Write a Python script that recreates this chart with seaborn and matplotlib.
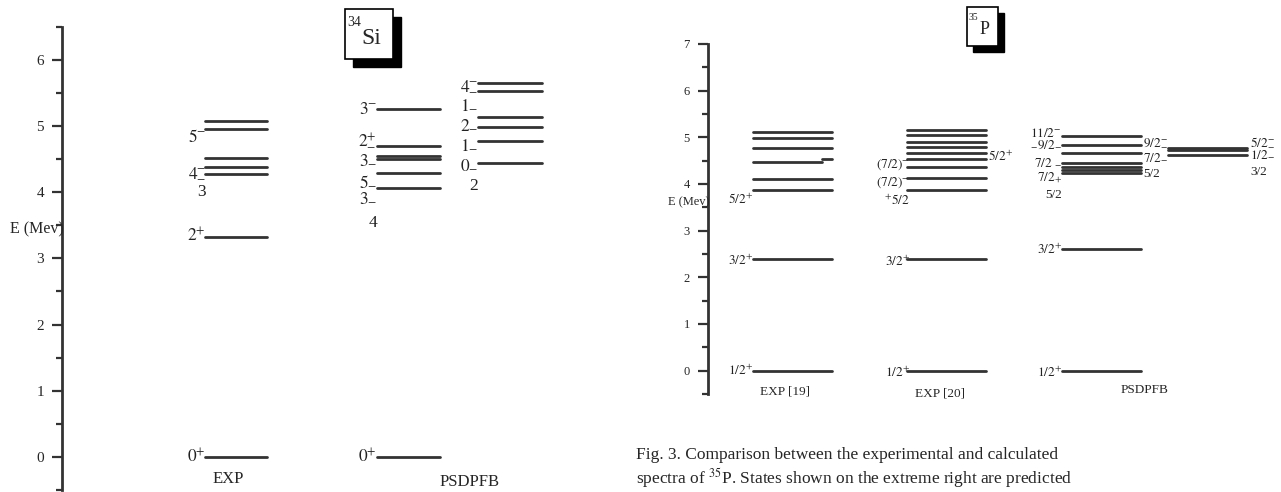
import numpy as np
import pandas as pd
import matplotlib
matplotlib.use("Agg")
import matplotlib.pyplot as plt
from matplotlib.ticker import MultipleLocator
from matplotlib.patches import Rectangle
import seaborn as sns

# ==========================================
# Level energies (MeV) and spin labels
# ==========================================
# 34Si - experiment
si_exp_E = [0.00, 3.33, 4.27, 4.38, 4.52, 4.96, 5.07]
si_exp_lab = ["$0^{+}$", "$2^{+}$", "3", "$4^{-}_{-}$", "$5^{-}$"]
si_exp_labE = [0.00, 3.33, 4.00, 4.30, 4.83]

# 34Si - PSDPFB, first column
si_th_E = [0.00, 4.06, 4.29, 4.50, 4.55, 4.69, 5.25]
si_th_lab = ["$0^{+}$", "4", "$3_{-}$", "$5_{-}$", "$3_{-}$", "$2^{+}_{-}$", "$3^{-}$"]
si_th_labE = [0.00, 3.54, 3.91, 4.15, 4.48, 4.78, 5.24]

# 34Si - PSDPFB, second column
si_th2_E = [4.44, 4.78, 4.98, 5.13, 5.53, 5.65]
si_th2_lab = ["2", "$0_{-}$", "$1_{-}$", "$2_{-}$", "$1_{-}$", "$4^{-}_{-}$"]
si_th2_labE = [4.10, 4.41, 4.71, 5.01, 5.31, 5.61]

# 35P - EXP [19]
p_exp19_E = [0.00, 2.39, 3.87, 4.11, 4.78, 4.99, 5.11]
p_exp19_split = [4.48, 4.53]          # level drawn with a small step at its right end
p_exp19_lab = ["$1/2^{+}$", "$3/2^{+}$", "$5/2^{+}$"]
p_exp19_labE = [0.00, 2.35, 3.66]

# 35P - EXP [20]
p_exp20_E = [0.00, 2.39, 3.87, 4.12, 4.37, 4.53, 4.67, 4.79, 4.91, 5.04, 5.16]
p_exp20_lab = ["$1/2^{+}$", "$3/2^{+}$", "$^{+}5/2$", "$(7/2)^{-}$", "$(7/2)^{-}$"]
p_exp20_labE = [-0.05, 2.33, 3.65, 4.02, 4.41]
p_exp20_rlab = ["$5/2^{+}$"]
p_exp20_rlabE = [4.58]

# 35P - PSDPFB
p_th_E = [0.00, 2.60, 4.24, 4.30, 4.36, 4.44, 4.66, 4.83, 5.03]
p_th_lab = ["$1/2^{+}$", "$3/2^{+}$", "5/2", "$7/2_{+}$", "$7/2\\ _{-}$", "$_{-}9/2_{-}$", "$11/2^{-}$"]
p_th_labE = [-0.05, 2.60, 3.76, 4.13, 4.45, 4.84, 5.09]
p_th_rlab = ["5/2", "$7/2_{-}$", "$9/2^{-}_{-}$"]
p_th_rlabE = [4.21, 4.55, 4.88]

# 35P - predicted states (extreme right)
p_pred_E = [4.62, 4.73, 4.77]
p_pred_lab = ["3/2", "$1/2_{-}$", "$5/2^{-}_{-}$"]
p_pred_labE = [4.26, 4.62, 4.89]

caption = ["Fig. 3. Comparison between the experimental and calculated",
           "spectra of $^{35}$P. States shown on the extreme right are predicted"]

# ==========================================
# Style
# ==========================================
sns.set_style("ticks")
plt.rcParams["font.family"] = ["Liberation Serif", "DejaVu Serif"]
plt.rcParams["mathtext.fontset"] = "stix"
LINE = "#333333"
W, H = 1281, 492

fig = plt.figure(figsize=(W / 100, H / 100), dpi=100)


def px_axes(x0, y_top, x1, y_bot):
    return fig.add_axes([x0 / W, 1 - y_bot / H, (x1 - x0) / W, (y_bot - y_top) / H])


def draw_levels(ax, energies, x0, x1, lw=2.0):
    df = pd.DataFrame({"lvl": np.repeat(np.arange(len(energies)), 2),
                       "x": np.tile([x0, x1], len(energies)),
                       "E": np.repeat(energies, 2)})
    sns.lineplot(data=df, x="x", y="E", units="lvl", estimator=None, sort=False,
                 color=LINE, lw=lw, ax=ax, legend=False)


def put_labels(ax, labels, energies, x, ha="right", size=11):
    for t, e in zip(labels, energies):
        ax.text(x, e, t, ha=ha, va="center", fontsize=size, color="#222222")


def style_axis(ax, xlim, top, major, tsize):
    ax.set_xlim(*xlim)
    ax.set_ylim(-0.5, top)
    for s in ["top", "right", "bottom"]:
        ax.spines[s].set_visible(False)
    ax.spines["left"].set_linewidth(2)
    ax.spines["left"].set_color(LINE)
    ax.set_xticks([])
    ax.set_yticks(major)
    ax.yaxis.set_minor_locator(MultipleLocator(0.5))
    ax.tick_params(axis="y", which="major", direction="out", length=7, width=1.6,
                   color=LINE, labelsize=tsize, pad=6)
    ax.tick_params(axis="y", which="minor", direction="out", length=4, width=1.6, color=LINE)
    ax.set_xlabel("")
    ax.set_ylabel("")
    ax.patch.set_alpha(0)


def nucleus_box(x0, y0, w, h, off, mass, sym, s_mass, s_sym):
    fig.add_artist(Rectangle(((x0 + off) / W, 1 - (y0 + h + off) / H), w / W, h / H,
                             transform=fig.transFigure, facecolor="black", edgecolor="black"))
    fig.add_artist(Rectangle((x0 / W, 1 - (y0 + h) / H), w / W, h / H,
                             transform=fig.transFigure, facecolor="white",
                             edgecolor="black", lw=1.2))
    fig.text((x0 + 2) / W, 1 - (y0 + h * 0.28) / H, mass, fontsize=s_mass, va="center")
    fig.text((x0 + w * 0.55) / W, 1 - (y0 + h * 0.58) / H, sym, fontsize=s_sym,
             ha="center", va="center")


# ==========================================
# 34Si panel
# ==========================================
ax1 = px_axes(62, 26.7, 560, 490)
draw_levels(ax1, si_exp_E, 205, 267)
draw_levels(ax1, si_th_E, 377, 440)
draw_levels(ax1, si_th2_E, 478, 542)
style_axis(ax1, (62, 560), 6.5, range(0, 7), 11)
put_labels(ax1, si_exp_lab, si_exp_labE, 206, size=12.5)
put_labels(ax1, si_th_lab, si_th_labE, 377, size=12.5)
put_labels(ax1, si_th2_lab, si_th2_labE, 478, size=12.5)
fig.text(10 / W, 1 - 229 / H, "E (Mev)", fontsize=11.5, va="center")
fig.text(228 / W, 1 - 479 / H, "EXP", fontsize=12, ha="center", va="center")
fig.text(470 / W, 1 - 482 / H, "PSDPFB", fontsize=12, ha="center", va="center")
nucleus_box(345, 9, 48, 50, 8, "34", "Si", 10, 17)

# ==========================================
# 35P panel
# ==========================================
ax2 = px_axes(708, 44, 1281, 394)
draw_levels(ax2, p_exp19_E, 753, 832)
draw_levels(ax2, p_exp19_split[:1], 753, 822)
draw_levels(ax2, p_exp19_split[1:], 822, 832)
draw_levels(ax2, p_exp20_E, 907, 986)
draw_levels(ax2, p_th_E, 1062, 1141)
draw_levels(ax2, p_pred_E, 1168, 1247)
style_axis(ax2, (708, 1281), 7, range(0, 8), 9)
put_labels(ax2, p_exp19_lab, p_exp19_labE, 753, size=9.5)
put_labels(ax2, p_exp20_lab, p_exp20_labE, 910, size=9.5)
put_labels(ax2, p_exp20_rlab, p_exp20_rlabE, 988, ha="left", size=9.5)
put_labels(ax2, p_th_lab, p_th_labE, 1062, size=9.5)
put_labels(ax2, p_th_rlab, p_th_rlabE, 1143, ha="left", size=9.5)
put_labels(ax2, p_pred_lab, p_pred_labE, 1250, ha="left", size=9.5)
fig.text(668 / W, 1 - 202 / H, "E (Mev)", fontsize=9, va="center")
fig.text(785 / W, 1 - 391 / H, "EXP [19]", fontsize=9.5, ha="center", va="center")
fig.text(940 / W, 1 - 393 / H, "EXP [20]", fontsize=9.5, ha="center", va="center")
fig.text(1145 / W, 1 - 390 / H, "PSDPFB", fontsize=9.5, ha="center", va="center")
nucleus_box(967, 7, 31, 39, 6, "35", "P", 7, 13)

# caption
fig.text(636 / W, 1 - 455 / H, caption[0], fontsize=12.5, va="center")
fig.text(636 / W, 1 - 478 / H, caption[1], fontsize=12.5, va="center")

fig.savefig("out.png", dpi=100)
